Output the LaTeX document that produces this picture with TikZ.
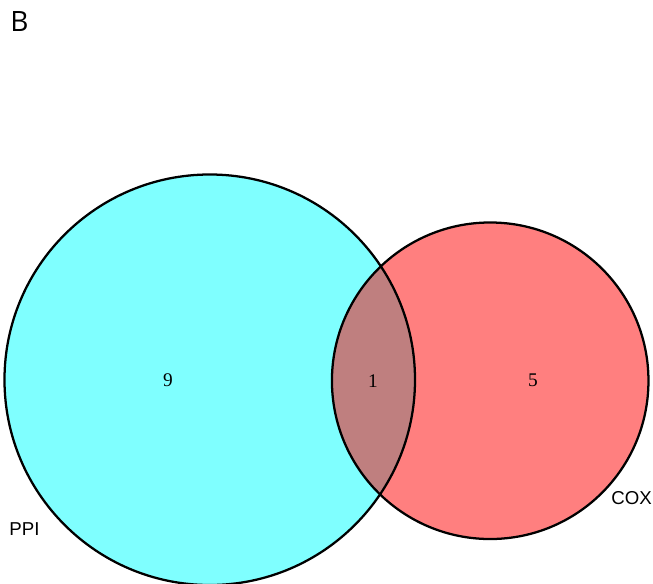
\documentclass[tikz,border=0pt]{standalone}
\usepackage{fontspec}
\setmainfont{Liberation Serif}
\setsansfont{Liberation Sans}
\newfontfamily\panelfont{Open Sans}
\definecolor{ppifill}{RGB}{0,255,255}
\definecolor{coxfill}{RGB}{255,0,0}

\begin{document}
\begin{tikzpicture}[
    x=0.75pt, y=-0.75pt,
    venn/.style={
        circle,
        fill opacity=0.5,
        inner sep=0pt
    },
    ring/.style={
        circle,
        draw=black,
        line width=1.7pt,
        inner sep=0pt
    },
    big/.style={minimum size=307.9pt},
    small/.style={minimum size=237.4pt},
    count/.style={
        font=\fontsize{14.5}{16}\selectfont
    },
    setname/.style={
        font=\sffamily\fontsize{14}{16}\selectfont
    }
]
\useasboundingbox (0,0) rectangle (653,583);
\clip (0,0) rectangle (653,583);

% Mengen (Fuellung)
\node[venn, big, fill=ppifill] (ppi) at (209.75,379.75) {};
\node[venn, small, fill=coxfill] (cox) at (490.2,380.75) {};

% Umrisse
\node[ring, big] (ppiring) at (ppi) {};
\node[ring, small] (coxring) at (cox) {};

% Anzahlen
\node[count] (nppi) at (168,380) {9};
\node[count] (nboth) at (373,381) {1};
\node[count] (ncox) at (533,380) {5};

% Namen
\node[setname] (lppi) at (24.5,529) {PPI};
\node[setname] (lcox) at (631.5,498.5) {COX};

\node[font=\panelfont\fontsize{21}{24}\selectfont] (panel) at (19.5,22) {B};

\end{tikzpicture}
\end{document}
